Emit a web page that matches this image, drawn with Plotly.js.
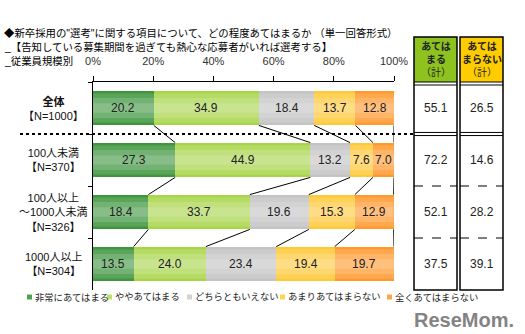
<!DOCTYPE html>
<html><head><meta charset="utf-8">
<script src="https://cdn.plot.ly/plotly-3.0.1.min.js"></script>
<style>html,body{margin:0;padding:0;background:#fff}#chart{width:525px;height:334px}</style>
</head><body><div id="chart"></div>
<script>
// ---- data ----
const categories = ['全体', '100人未満', '100人以上～1000人未満', '1000人以上'];
const categoryLabels = [['全体', '【N=1000】'], ['100人未満', '【N=370】'], ['100人以上', '～1000人未満', '【N=326】'], ['1000人以上', '【N=304】']];
const seriesNames = ['非常にあてはまる', 'ややあてはまる', 'どちらともいえない', 'あまりあてはまらない', '全くあてはまらない'];
const verySo = [20.2, 27.3, 18.4, 13.5];
const somewhatSo = [34.9, 44.9, 33.7, 24.0];
const neither = [18.4, 13.2, 19.6, 23.4];
const notReally = [13.7, 7.6, 15.3, 19.4];
const notAtAll = [12.8, 7.0, 12.9, 19.7];
const applyTotal = [55.1, 72.2, 52.1, 37.5];
const notApplyTotal = [26.5, 14.6, 28.2, 39.1];
const tableHeaders = ['<b>あては<br>まる</b><br>（計）', '<b>あては<br>まらない</b><br>（計）'];
const tickValues = [0, 20, 40, 60, 80, 100];
const tickLabels = ['0%', '20%', '40%', '60%', '80%', '100%'];
const titleLines = ['◆新卒採用の"選考"に関する項目について、どの程度あてはまるか （単一回答形式）',
  '_【告知している募集期間を過ぎても熱心な応募者がいれば選考する】',
  '_従業員規模別'];
const watermark = 'ReseMom.';

// ---- styles ----
const W = 525, H = 334;
const px = v => v / W, py = v => 1 - v / H;
const colors = ['#3E963E', '#A8D54A', '#C4C4C4', '#FFC93A', '#FF9A30'];
const legendColors = ['#4FA24F', '#BEE06E', '#D3D3D3', '#FFD650', '#FFA544'];
const FONT = 'Arial, "Noto Sans CJK JP", sans-serif';
const series = [verySo, somewhatSo, neither, notReally, notAtAll];
const BARGAP = 0.33, HALF = (1 - BARGAP) / 2;

const traces = series.map((vals, s) => ({
  type: 'bar', orientation: 'h', name: seriesNames[s],
  y: categories, x: vals,
  marker: { color: colors[s], line: { width: 0 } },
  hoverinfo: 'skip', showlegend: false
}));

const shapes = [];
const annotations = [];

// cumulative boundaries
const cums = categories.map((c, i) => { let a = 0; return series.map(sv => (a += sv[i])); });

// connector lines between consecutive bars (numeric overlay axis y2)
const cx = [], cy = [];
for (let i = 0; i < categories.length - 1; i++) {
  for (let k = 0; k < series.length; k++) {
    cx.push(Math.min(cums[i][k], 100), Math.min(cums[i + 1][k], 100), null);
    cy.push(i + HALF, i + 1 - HALF, null);
  }
}
traces.push({ type: 'scatter', mode: 'lines', x: cx, y: cy, yaxis: 'y2', xaxis: 'x',
  line: { color: '#000', width: 1 }, hoverinfo: 'skip', showlegend: false, connectgaps: false });

// gradient-like sheen on bars
categories.forEach((c, i) => {
  [0.28, 0.19, 0.09].forEach(h => shapes.push({ type: 'rect', xref: 'x', yref: 'y', layer: 'above',
    x0: 0, x1: Math.min(cums[i][series.length - 1], 100), y0: i - h, y1: i + h,
    fillcolor: '#fff', opacity: 0.15, line: { width: 0 } }));
});

// bar value labels
series.forEach((vals, s) => vals.forEach((v, i) => annotations.push({ xref: 'x', yref: 'y',
  x: cums[i][s] - v / 2, y: categories[i], text: v.toFixed(1), showarrow: false,
  xanchor: 'center', yanchor: 'middle', font: { size: 12, color: '#222', family: FONT } })));

// dotted separator after 全体
shapes.push({ type: 'line', xref: 'paper', yref: 'y', x0: px(20), x1: px(413), y0: 0.5, y1: 0.5,
  line: { color: '#000', width: 2, dash: 'dot' } });

// table
const cols = [[414, 457, '#8DC21F'], [460, 503, '#FFCC00']];
const tableVals = [applyTotal, notApplyTotal];
cols.forEach(([l, r, fill], c) => {
  shapes.push({ type: 'rect', xref: 'paper', yref: 'paper', x0: px(l), x1: px(r), y0: py(82), y1: py(37),
    fillcolor: fill, line: { width: 0 } });
  shapes.push({ type: 'rect', xref: 'paper', yref: 'paper', x0: px(l), x1: px(r), y0: py(290), y1: py(37),
    line: { color: '#000', width: 1.5 } });
  shapes.push({ type: 'line', xref: 'paper', yref: 'paper', x0: px(l), x1: px(r), y0: py(82), y1: py(82), line: { color: '#000', width: 1 } });
  shapes.push({ type: 'line', xref: 'paper', yref: 'paper', x0: px(l), x1: px(r), y0: py(85), y1: py(85), line: { color: '#000', width: 1 } });
  shapes.push({ type: 'line', xref: 'paper', yref: 'y', x0: px(l), x1: px(r), y0: 0.47, y1: 0.47, line: { color: '#000', width: 1 } });
  shapes.push({ type: 'line', xref: 'paper', yref: 'y', x0: px(l), x1: px(r), y0: 0.53, y1: 0.53, line: { color: '#000', width: 1 } });
  [1.5, 2.5].forEach(yv => shapes.push({ type: 'line', xref: 'paper', yref: 'y', x0: px(l), x1: px(r), y0: yv, y1: yv,
    line: { color: '#000', width: 1, dash: 'dash' } }));
  annotations.push({ xref: 'paper', yref: 'paper', x: px((l + r) / 2), y: py(60), text: tableHeaders[c],
    showarrow: false, xanchor: 'center', yanchor: 'middle', align: 'center',
    font: { size: 10, color: '#222', family: FONT } });
  tableVals[c].forEach((v, i) => annotations.push({ xref: 'paper', yref: 'y', x: px((l + r) / 2), y: categories[i],
    text: v.toFixed(1), showarrow: false, xanchor: 'center', yanchor: 'middle',
    font: { size: 12, color: '#222', family: FONT } }));
});

// category labels
categoryLabels.forEach((lines, i) => annotations.push({ xref: 'paper', yref: 'y', x: px(53), y: categories[i],
  text: i === 0 ? '<b>' + lines[0] + '</b><br>' + lines.slice(1).join('<br>') : lines.join('<br>'),
  showarrow: false, xanchor: 'center', yanchor: 'middle', align: 'center',
  font: { size: 11, color: '#111', family: FONT } }));

// title lines
[33, 47, 61].forEach((yy, i) => annotations.push({ xref: 'paper', yref: 'paper', x: px(2), y: py(yy), text: titleLines[i],
  showarrow: false, xanchor: 'left', yanchor: 'middle', font: { size: 10.4, color: '#000', family: FONT } }));

// legend
const legendX = [27, 107, 187, 280, 387];
seriesNames.forEach((n, s) => {
  shapes.push({ type: 'rect', xref: 'paper', yref: 'paper', x0: px(legendX[s]), x1: px(legendX[s] + 5),
    y0: py(299.5), y1: py(294.5), fillcolor: legendColors[s], line: { width: 0 } });
  annotations.push({ xref: 'paper', yref: 'paper', x: px(legendX[s] + 6), y: py(297), text: n, showarrow: false,
    xanchor: 'left', yanchor: 'middle', font: { size: 9.3, color: '#222', family: FONT } });
});

// watermark
annotations.push({ xref: 'paper', yref: 'paper', x: px(464), y: py(320), text: '<b>' + watermark + '</b>',
  showarrow: false, xanchor: 'center', yanchor: 'middle', opacity: 0.85,
  font: { size: 20, color: '#6E6E6E', family: 'Arial, sans-serif' } });

const layout = {
  width: W, height: H, margin: { l: 0, r: 0, t: 0, b: 0 },
  paper_bgcolor: '#fff', plot_bgcolor: '#fff',
  barmode: 'stack', bargap: BARGAP, showlegend: false,
  font: { family: FONT },
  xaxis: { domain: [px(93), px(394)], range: [0, 100], side: 'top', tickvals: tickValues, ticktext: tickLabels,
    showline: true, linecolor: '#000', linewidth: 1, ticks: 'outside', ticklen: 5, tickcolor: '#000',
    showgrid: false, zeroline: false, tickfont: { size: 11, color: '#333', family: FONT }, ticklabelstandoff: 7, fixedrange: true },
  yaxis: { domain: [py(290), py(82)], type: 'category', categoryarray: categories, autorange: 'reversed',
    showline: true, linecolor: '#000', linewidth: 1, ticks: 'outside', tickson: 'boundaries', ticklen: 4, tickcolor: '#000',
    showticklabels: false, showgrid: false, zeroline: false, fixedrange: true },
  yaxis2: { overlaying: 'y', anchor: 'x', range: [3.5, -0.5], visible: false, fixedrange: true },
  shapes, annotations
};
Plotly.newPlot('chart', traces, layout, { staticPlot: true, displayModeBar: false });
</script></body></html>
